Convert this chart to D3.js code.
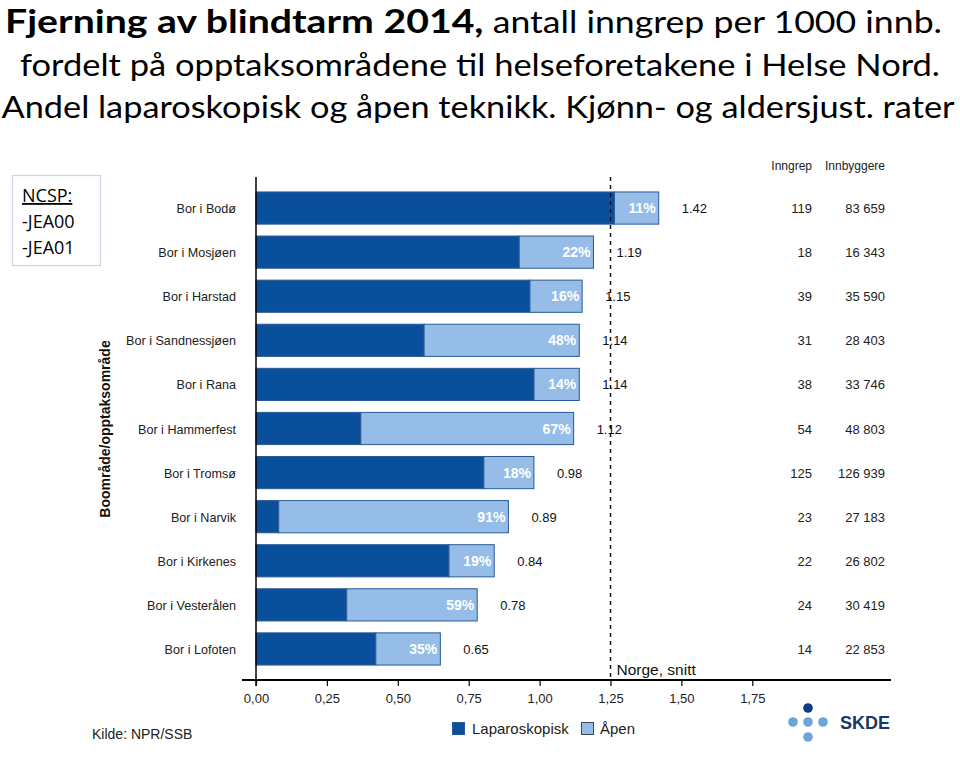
<!DOCTYPE html>
<html><head><meta charset="utf-8">
<script src="https://cdn.jsdelivr.net/npm/d3@7"></script>
<style>body{margin:0;background:#fff}svg{display:block}</style>
</head><body>
<svg id="c" width="960" height="757"></svg>
<script>
const categories = ["Bor i Bodø","Bor i Mosjøen","Bor i Harstad","Bor i Sandnessjøen","Bor i Rana","Bor i Hammerfest","Bor i Tromsø","Bor i Narvik","Bor i Kirkenes","Bor i Vesterålen","Bor i Lofoten"];
const rates = [1.42,1.19,1.15,1.14,1.14,1.12,0.98,0.89,0.84,0.78,0.65];
const openPct = [11,22,16,48,14,67,18,91,19,59,35];
const inngrep = ["119","18","39","31","38","54","125","23","22","24","14"];
const innbyggere = ["83 659","16 343","35 590","28 403","33 746","48 803","126 939","27 183","26 802","30 419","22 853"];
const xTicks = [0,0.25,0.5,0.75,1,1.25,1.5,1.75];
const norgeSnitt = 1.25;
const seriesNames = ["Laparoskopisk","Åpen"];

const dark = "#0a4f9b", light = "#96bde7", stroke = "#2a5a95";
const svg = d3.select("#c");
const x = d3.scaleLinear().domain([0,1.25]).range([256,610.5]);
const y = d3.scaleBand().domain(categories).range([186,671]).paddingInner(0.27).paddingOuter(0.135);

// Title
const tf = "Lato, 'Open Sans', sans-serif";
const t1 = svg.append("text").attr("x",5).attr("y",33).attr("font-family",tf).attr("fill","#000");
t1.append("tspan").attr("font-weight","bold").attr("font-size",33).text("Fjerning av blindtarm 2014,");
t1.append("tspan").attr("font-size",30).text(" antall inngrep per 1000 innb.");
t1.attr("textLength",937).attr("lengthAdjust","spacingAndGlyphs");
svg.append("text").attr("x",480).attr("y",76).attr("text-anchor","middle").attr("font-family",tf).attr("font-size",30)
  .attr("textLength",920).attr("lengthAdjust","spacingAndGlyphs").text("fordelt på opptaksområdene til helseforetakene i Helse Nord.");
svg.append("text").attr("x",478).attr("y",118).attr("text-anchor","middle").attr("font-family",tf).attr("font-size",30)
  .attr("textLength",953).attr("lengthAdjust","spacingAndGlyphs").text("Andel laparoskopisk og åpen teknikk. Kjønn- og aldersjust. rater");

// NCSP box
svg.append("rect").attr("x",12.5).attr("y",175.5).attr("width",88).attr("height",90).attr("fill","#fff").attr("stroke","#c9d5e2").attr("stroke-width",1.2);
const nf = "'Open Sans', sans-serif";
svg.append("text").attr("x",22).attr("y",202).attr("font-family",nf).attr("font-size",18).attr("text-decoration","underline").text("NCSP:");
svg.append("text").attr("x",22).attr("y",228).attr("font-family",nf).attr("font-size",18).text("-JEA00");
svg.append("text").attr("x",22).attr("y",254).attr("font-family",nf).attr("font-size",18).text("-JEA01");

const af = "Arial, 'Liberation Sans', sans-serif";
// column headers
svg.append("text").attr("x",812).attr("y",170).attr("text-anchor","end").attr("font-family",af).attr("font-size",12).attr("fill","#222").text("Inngrep");
svg.append("text").attr("x",885).attr("y",170).attr("text-anchor","end").attr("font-family",af).attr("font-size",12).attr("fill","#222").text("Innbyggere");

const rows = categories.map((c,i)=>({c, rate:rates[i], open:openPct[i], lap: rates[i]*(1-openPct[i]/100), n:inngrep[i], pop:innbyggere[i]}));

const g = svg.append("g");
g.selectAll("rect.lap").data(rows).join("rect").attr("class","lap")
  .attr("x",x(0)).attr("y",d=>y(d.c)).attr("width",d=>x(d.lap)-x(0)).attr("height",y.bandwidth())
  .attr("fill",dark).attr("stroke",stroke).attr("stroke-width",1);
g.selectAll("rect.open").data(rows).join("rect").attr("class","open")
  .attr("x",d=>x(d.lap)).attr("y",d=>y(d.c)).attr("width",d=>x(d.rate)-x(d.lap)).attr("height",y.bandwidth())
  .attr("fill",light).attr("stroke",stroke).attr("stroke-width",1);
g.selectAll("text.pct").data(rows).join("text").attr("class","pct")
  .attr("x",d=>x(d.rate)-3).attr("y",d=>y(d.c)+y.bandwidth()/2+5).attr("text-anchor","end")
  .attr("font-family",af).attr("font-weight","bold").attr("font-size",14).attr("fill","#fff").text(d=>d.open+"%");
g.selectAll("text.rate").data(rows).join("text").attr("class","rate")
  .attr("x",d=>x(d.rate)+23).attr("y",d=>y(d.c)+y.bandwidth()/2+5)
  .attr("font-family",af).attr("font-size",13).attr("fill","#111").text(d=>d.rate.toFixed(2));
g.selectAll("text.n").data(rows).join("text").attr("class","n")
  .attr("x",812).attr("y",d=>y(d.c)+y.bandwidth()/2+5).attr("text-anchor","end")
  .attr("font-family",af).attr("font-size",13).attr("fill","#222").text(d=>d.n);
g.selectAll("text.pop").data(rows).join("text").attr("class","pop")
  .attr("x",885).attr("y",d=>y(d.c)+y.bandwidth()/2+5).attr("text-anchor","end")
  .attr("font-family",af).attr("font-size",13).attr("fill","#222").text(d=>d.pop);
g.selectAll("text.cat").data(rows).join("text").attr("class","cat")
  .attr("x",236).attr("y",d=>y(d.c)+y.bandwidth()/2+5).attr("text-anchor","end")
  .attr("font-family",af).attr("font-size",12.6).attr("fill","#222").text(d=>d.c);

// dashed average line
svg.append("line").attr("x1",x(norgeSnitt)).attr("x2",x(norgeSnitt)).attr("y1",177).attr("y2",680)
  .attr("stroke","#111").attr("stroke-width",1.5).attr("stroke-dasharray","4,4");
svg.append("text").attr("x",x(norgeSnitt)+6).attr("y",675).attr("font-family",af).attr("font-size",15.5).attr("fill","#111").text("Norge, snitt");

// axes
svg.append("line").attr("x1",x(0)).attr("x2",x(0)).attr("y1",177).attr("y2",686).attr("stroke","#000").attr("stroke-width",1.5);
svg.append("line").attr("x1",242).attr("x2",891).attr("y1",680).attr("y2",680).attr("stroke","#000").attr("stroke-width",1.8);
const xAxis = d3.axisBottom(x).tickValues(xTicks).tickSize(6).tickFormat(d=>d3.format(".2f")(d).replace(".",","));
const ax = svg.append("g").attr("transform","translate(0,680)").call(xAxis);
ax.select(".domain").remove();
ax.selectAll(".tick line").attr("stroke","#000").attr("stroke-width",1.2);
ax.selectAll(".tick text").attr("font-family",af).attr("font-size",13).attr("fill","#222").attr("dy","1.05em");

// y title
svg.append("text").attr("transform","translate(110,429) rotate(-90)").attr("text-anchor","middle")
  .attr("font-family",af).attr("font-weight","bold").attr("font-size",14).attr("fill","#111").text("Boområde/opptaksområde");

// legend
const lg = svg.append("g");
lg.append("rect").attr("x",452.5).attr("y",722.5).attr("width",12).attr("height",12).attr("fill",dark).attr("stroke",stroke);
lg.append("text").attr("x",472).attr("y",734).attr("font-family",af).attr("font-size",15).attr("fill","#222").text(seriesNames[0]);
lg.append("rect").attr("x",581.5).attr("y",722.5).attr("width",12).attr("height",12).attr("fill",light).attr("stroke","#3a4a60");
lg.append("text").attr("x",600).attr("y",734).attr("font-family",af).attr("font-size",15).attr("fill","#222").text(seriesNames[1]);

// source
svg.append("text").attr("x",92).attr("y",739).attr("font-family",af).attr("font-size",14).attr("fill","#222").text("Kilde: NPR/SSB");

// SKDE logo
const dots = [[808,708,"#0d3c84"],[793,722,"#6da4dc"],[808,722,"#6da4dc"],[823,722,"#6da4dc"],[808,737,"#6da4dc"]];
svg.selectAll("circle.logo").data(dots).join("circle").attr("class","logo").attr("cx",d=>d[0]).attr("cy",d=>d[1]).attr("r",4.8).attr("fill",d=>d[2]);
svg.append("text").attr("x",840).attr("y",729).attr("font-family",af).attr("font-weight","bold").attr("font-size",18).attr("fill","#1a3668").text("SKDE");
</script>
</body></html>
